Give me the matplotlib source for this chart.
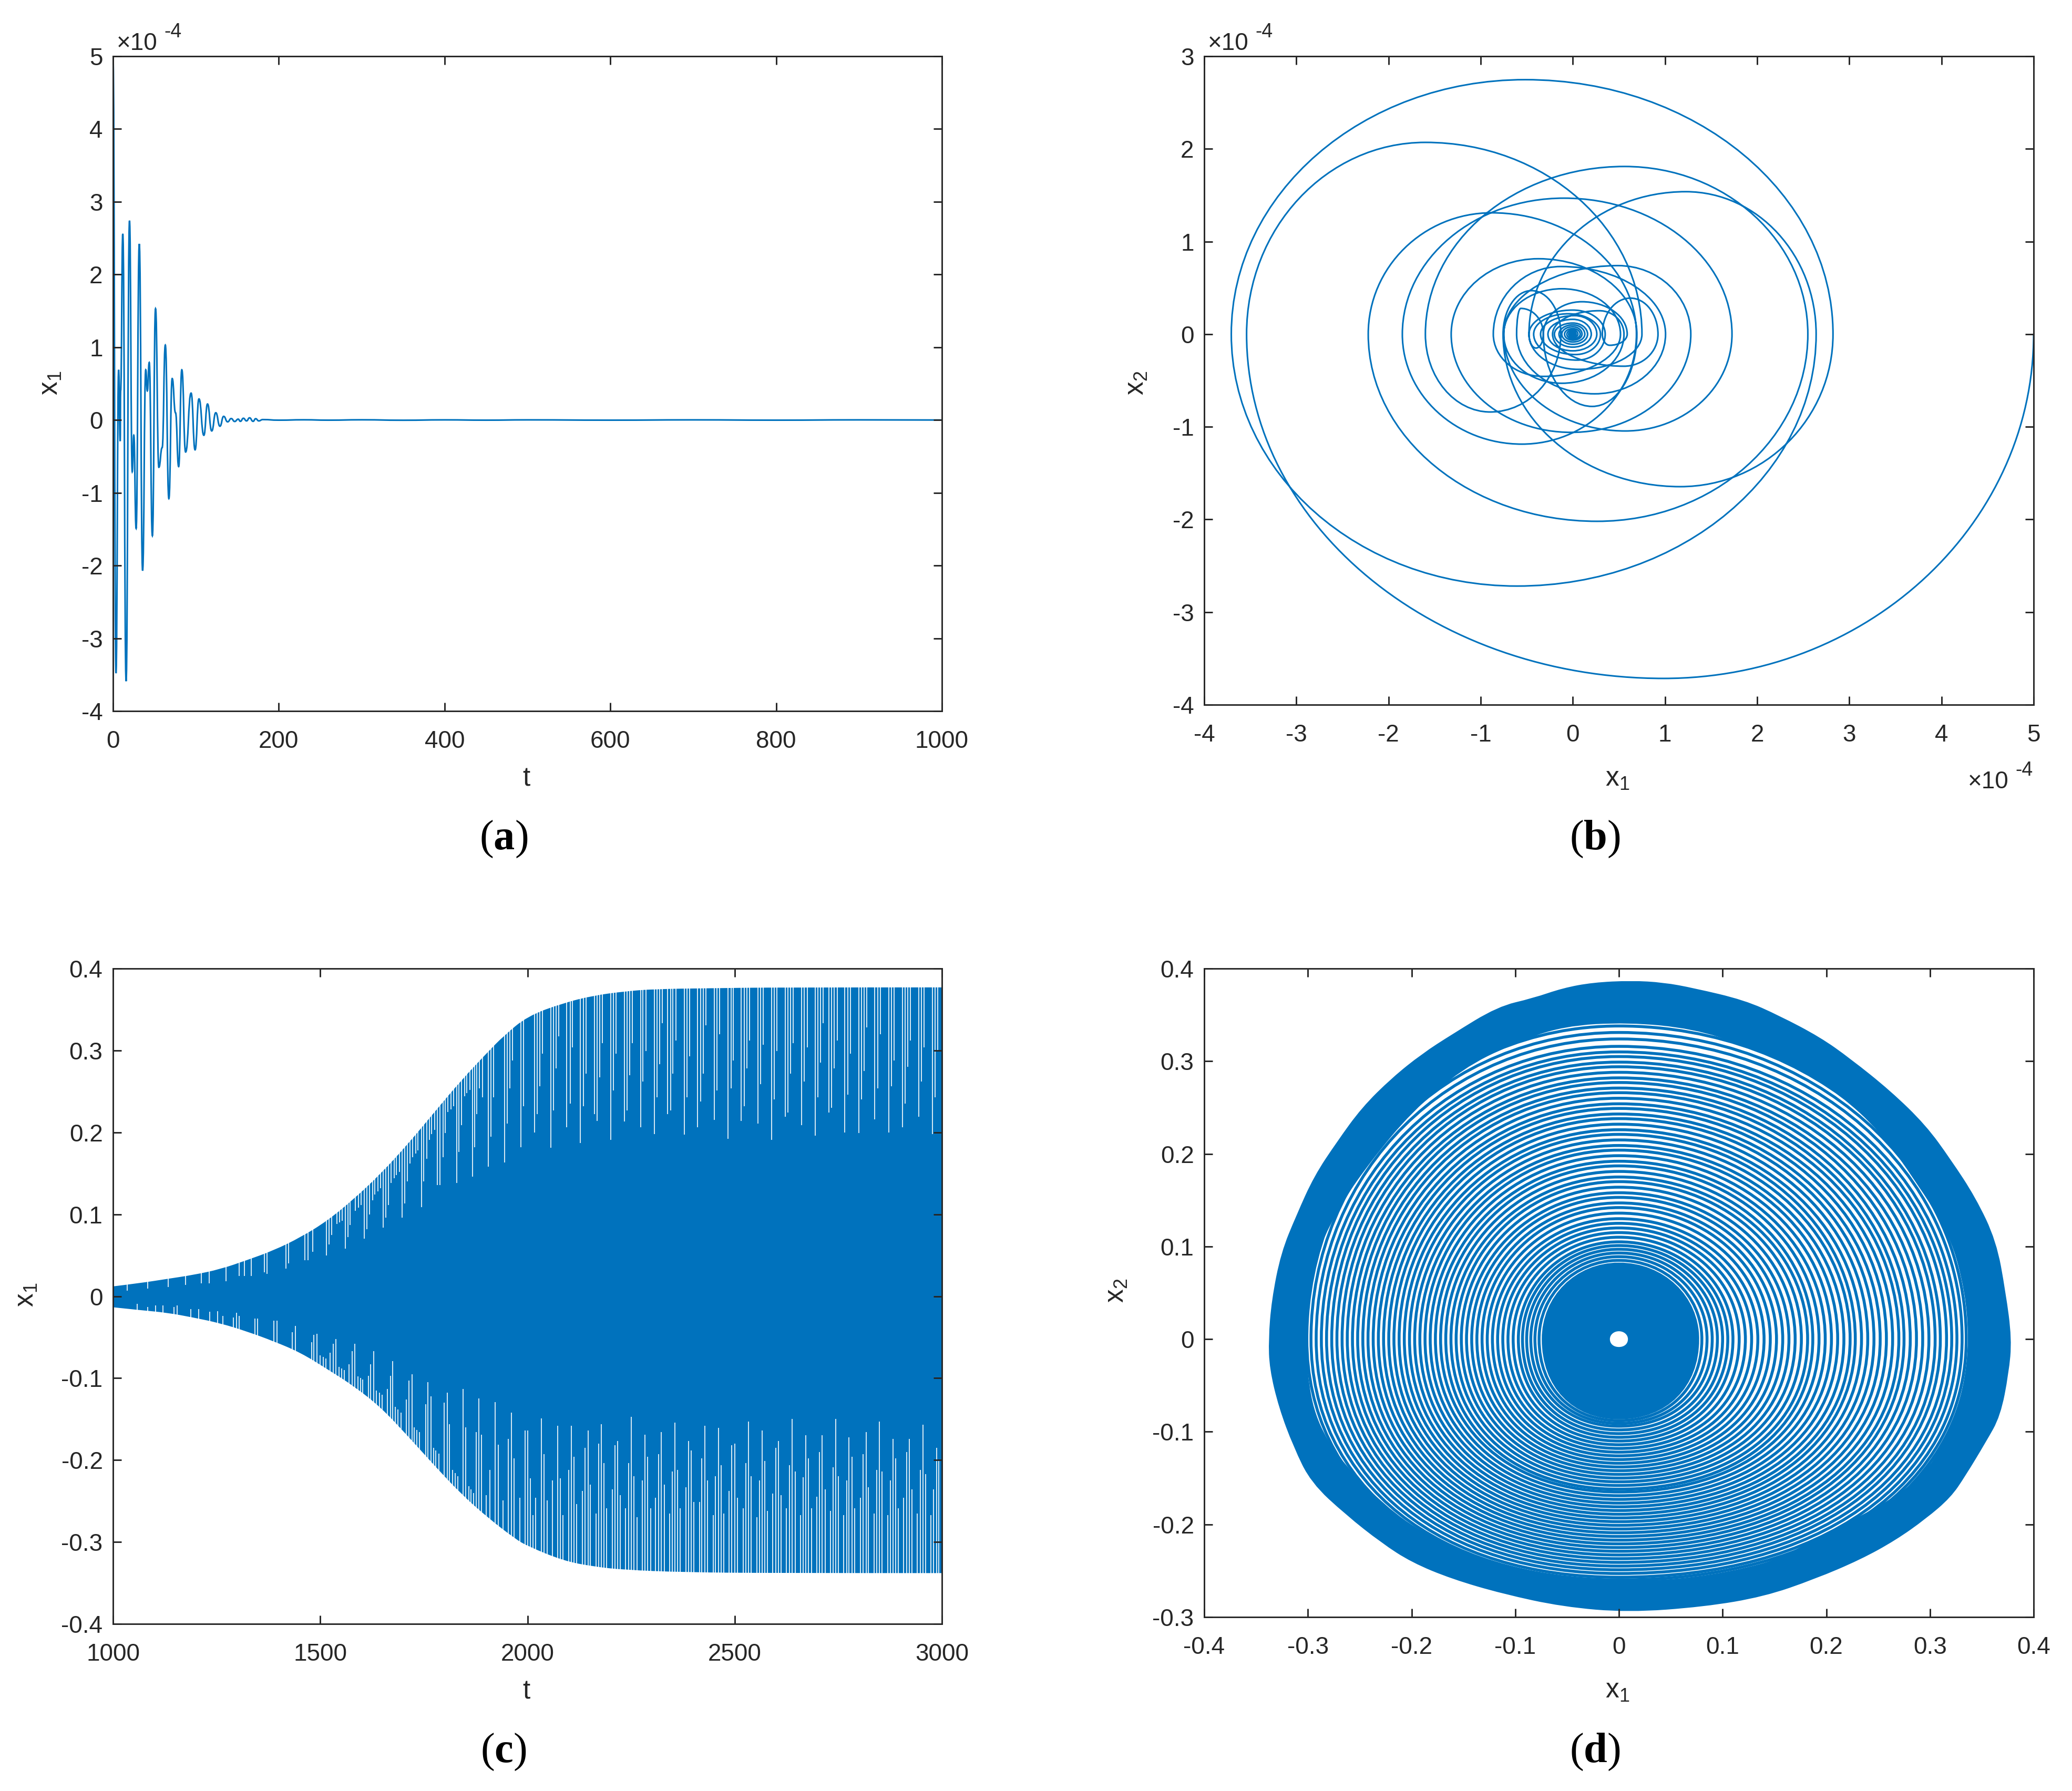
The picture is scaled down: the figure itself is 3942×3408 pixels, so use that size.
"""
plot.py
Four panel figure: decay and growth of x1, with phase portraits.
"""
import numpy as np
import matplotlib
matplotlib.use("Agg")
import matplotlib.pyplot as plt
from matplotlib.path import Path
from matplotlib.patches import PathPatch

plt.rcParams["font.family"] = ["Liberation Sans", "DejaVu Sans"]
plt.rcParams["axes.unicode_minus"] = False
plt.rcParams["mathtext.fontset"] = "custom"
plt.rcParams["mathtext.rm"] = "Liberation Serif"
plt.rcParams["mathtext.bf"] = "Liberation Serif:bold"
plt.rcParams["mathtext.sf"] = "Liberation Sans"

BLUE = "#0072BD"
DARK = "#262626"

# ---------- (a) extrema of x1 over t, in units of 1e-4 ----------
a_t = [0, 3.6, 6.8, 8.7, 9.2, 11.8, 15.8, 19.9, 23.2, 25.1, 27.9, 31.7, 35.7, 39.5, 41.4, 43.7,
       47.5, 51.3, 55.3, 59.3, 63.1, 67.4, 71.4, 75.4, 79.2, 83, 87.6, 94.2, 99, 103.7, 109.6,
       114, 119.1, 124, 129, 133.5, 138.3, 142.6, 146.8, 151, 153.7, 157.3, 161.1, 164.7, 169,
       172.1, 175.9, 180.6, 200, 230, 260, 300, 350, 400, 450, 500, 600, 700, 800, 900, 1000]
a_x = [5, -3.48, 0.69, -0.29, 0.4, 2.56, -3.59, 2.74, -0.71, -0.21, -1.49, 2.42, -2.07, 0.69, 0.40, 0.79,
       -1.59, 1.53, -0.65, -0.38, 1.03, -1.08, 0.57, 0.1, -0.64, 0.69, -0.44, 0.37, -0.41, 0.29, -0.21,
       0.22, -0.15, 0.10, -0.085, 0.05, -0.025, 0.02, -0.02, 0.012, -0.018, 0.024, -0.012, 0.03, -0.018,
       0.018, -0.012, 0.006, -0.002, 0.003, -0.002, 0.003, -0.003, 0.002, -0.002, 0.002, -0.002, 0.002,
       -0.002, 0.002, 0]

# ---------- (b) x1 turning points on x2=0 and the x2 extreme after each, units of 1e-4 ----------
b_turn = [5, -3.54, 0.75, -0.476, 2.64, -3.706, 2.823, -0.757, -0.13, -1.6, 2.55, -2.22, 0.69, -1.85,
          1.727, -0.75, 1.28, -1.32, 0.695, -0.32, 0.59, 0.32, 0.924, -0.22, 0.555, -0.75, 0.517,
          -0.863, 1.006, -0.61, -0.32, -0.476, 0.351, -0.425, 0.3, -0.35, 0.26, -0.27, 0.2, -0.2,
          0.16, -0.15, 0.13, -0.12, 0.1, -0.09, 0.08, -0.065, 0.055, -0.045, 0.035, -0.03, 0.02,
          -0.015, 0.01, -0.005]
b_ext_x = [0.985, -1.6, 0.06, 1.225, -0.607, -0.517, 1.165, -0.45, -0.896, 0.56, 0.264, -0.88, -0.553,
           -0.096, 0.568, 0.49, -0.018, -0.374, 0.21, 0.097, 0.40, 0.624, 0.555, 0.288, -0.12, -0.12,
           -0.323, -0.13, 0.237, -0.565, -0.4, 0.0, 0.05, -0.05, 0.03, 0.02, 0.0, 0.0, 0.0, 0.0,
           0.0, 0.0, 0.0, 0.0, 0.0, 0.0, 0.0, 0.0, 0.0, 0.0, 0.0, 0.0, 0.0, 0.0, 0.0]
b_ext_y = [-3.716, 2.07, -0.38, 1.538, -2.719, 2.747, -1.646, 0.47, -0.84, 1.81, -2.02, 1.31, -1.187,
           1.468, -1.045, 0.74, -1.06, 0.814, -0.78, 0.35, -0.12, 0.389, -0.346, 0.253, -0.53, 0.49,
           -0.456, 0.73, -0.644, 0.278, -0.15, 0.26, -0.28, 0.22, -0.22, 0.2, -0.18, 0.16, -0.14, 0.12,
           -0.11, 0.1, -0.085, 0.08, -0.065, 0.06, -0.05, 0.045, -0.035, 0.03, -0.025, 0.02, -0.015,
           0.01, -0.006]

# ---------- (c) envelope of x1 ----------
c_up_t = [1000, 1065, 1129, 1194, 1259, 1323, 1388, 1453, 1517, 1582, 1647, 1712, 1776, 1841, 1906,
          1941, 2000, 2087, 2159, 2232, 2305, 2450, 2596, 3000]
c_up = [0.012, 0.016, 0.021, 0.026, 0.033, 0.044, 0.056, 0.072, 0.092, 0.119, 0.150, 0.186, 0.225,
        0.264, 0.299, 0.317, 0.342, 0.358, 0.367, 0.372, 0.375, 0.376, 0.377, 0.377]
c_lo_t = [1000, 1065, 1129, 1194, 1259, 1323, 1388, 1453, 1517, 1582, 1647, 1712, 1776, 1841, 1906,
          1970, 2000, 2087, 2159, 2232, 2378, 2596, 3000]
c_lo = [-0.0135, -0.017, -0.020, -0.026, -0.033, -0.043, -0.055, -0.069, -0.089, -0.110, -0.136, -0.171,
        -0.207, -0.242, -0.271, -0.296, -0.305, -0.323, -0.330, -0.334, -0.337, -0.338, -0.338]

# gaps left open between strokes: t of each gap and the x1 value where it closes
c_gap_up_t = [1034, 1084, 1133, 1175, 1213, 1232, 1273, 1304, 1317, 1333, 1365, 1372, 1417, 1424, 1463,
              1470, 1482, 1515, 1521, 1527, 1560, 1567, 1572, 1606, 1613, 1619, 1626, 1652, 1658, 1665,
              1671, 1697, 1704, 1710, 1717, 1744, 1750, 1757, 1763, 1783, 1789, 1796, 1802, 1829, 1835,
              1841, 1868, 1872, 1878, 1884, 1892, 1906, 1912, 1918, 1945, 1951, 1957, 1964, 1984, 1991,
              2017, 2023, 2030, 2036, 2056, 2063, 2069, 2076, 2095, 2103, 2108, 2128, 2135, 2142, 2162,
              2168, 2175, 2181, 2201, 2207, 2214, 2234, 2240, 2247, 2253, 2273, 2279, 2286, 2306, 2312,
              2319, 2325, 2338, 2345, 2351, 2358, 2378, 2385, 2391, 2410, 2418, 2424, 2431, 2451, 2457,
              2464, 2484, 2491, 2497, 2516, 2523, 2529, 2536, 2556, 2563, 2569, 2589, 2595, 2602, 2622,
              2628, 2635, 2641, 2662, 2668, 2675, 2694, 2701, 2707, 2714, 2727, 2734, 2740, 2747, 2766,
              2773, 2779, 2799, 2806, 2812, 2819, 2838, 2845, 2852, 2872, 2878, 2885, 2905, 2911, 2918,
              2924, 2944, 2950, 2957, 2977, 2983, 2990,
              1540, 1546, 1553, 1585, 1592, 1599, 1632, 1639, 1645, 1678, 1684, 1691, 1723, 1730, 1736,
              1769, 1776, 1808, 1815, 1822, 1848, 1854, 1861]
c_gap_up = [.007, .009, .011, .014, .016, .016, .018, .025, .025, .025, .029, .027, .034, .040, .044,
            .044, .054, .050, .063, .075, .058, .072, .087, .070, .082, .100, .117, .084, .096, .111,
            .138, .096, .113, .140, .162, .109, .140, .168, .191, .136, .136, .170, .199, .138, .176,
            .209, .146, .182, .222, .254, .243, .158, .195, .243, .163, .211, .254, .288, .182, .232,
            .200, .222, .256, .296, .181, .227, .278, .317, .206, .235, .304, .187, .232, .272, .222,
            .214, .267, .309, .191, .251, .296, .213, .227, .270, .309, .206, .262, .299, .198, .243,
            .283, .333, .222, .227, .272, .312, .197, .243, .293, .206, .238, .272, .331, .215, .251,
            .320, .192, .254, .288, .214, .232, .278, .312, .211, .259, .307, .191, .240, .299, .219,
            .224, .272, .309, .209, .262, .304, .196, .243, .285, .333, .224, .230, .278, .312, .200,
            .246, .296, .199, .240, .275, .328, .216, .254, .320, .200, .256, .288, .206, .235, .280,
            .312, .219, .262, .304, .198, .243, .299,
            .088, .090, .092, .104, .108, .111, .124, .128, .132, .144, .148, .152, .170, .174, .178,
            .198, .203, .225, .228, .232, .244, .248, .252]
c_gap_lo_t = [1058, 1084, 1103, 1120, 1147, 1155, 1188, 1207, 1233, 1252, 1265, 1291, 1298, 1304, 1343,
              1349, 1388, 1396, 1433, 1440, 1479, 1485, 1492, 1524, 1532, 1538, 1569, 1577, 1583, 1616,
              1622, 1629, 1662, 1669, 1675, 1708, 1714, 1721, 1754, 1760, 1767, 1799, 1806, 1812, 1845,
              1851, 1876, 1883, 1889, 1901, 1909, 1922, 1929, 1941, 1954, 1961, 1968, 1981, 1994, 2000,
              2007, 2013, 2020, 2033, 2040, 2047, 2060, 2073, 2079, 2086, 2100, 2106, 2112, 2119, 2132,
              2139, 2146, 2152, 2165, 2172, 2178, 2185, 2191, 2205, 2211, 2218, 2224, 2237, 2244, 2250,
              2257, 2264, 2277, 2284, 2290, 2297, 2309, 2316, 2323, 2330, 2343, 2349, 2356, 2362, 2369,
              2382, 2389, 2395, 2402, 2415, 2421, 2428, 2434, 2448, 2454, 2461, 2467, 2474, 2487, 2493,
              2500, 2507, 2520, 2527, 2533, 2540, 2553, 2560, 2566, 2573, 2579, 2592, 2599, 2606, 2612,
              2625, 2632, 2639, 2646, 2659, 2665, 2672, 2678, 2685, 2698, 2705, 2711, 2718, 2731, 2737,
              2744, 2750, 2763, 2770, 2776, 2783, 2790, 2803, 2810, 2817, 2823, 2836, 2843, 2849, 2856,
              2869, 2876, 2882, 2889, 2895, 2908, 2915, 2921, 2928, 2941, 2948, 2954, 2961, 2974, 2980,
              2987, 2993,
              1500, 1507, 1513, 1545, 1552, 1558, 1591, 1597, 1603, 1636, 1643, 1649, 1681, 1688, 1695,
              1727, 1733, 1740, 1773, 1779, 1786, 1819, 1825, 1832, 1858, 1864, 1870]
c_gap_lo = [-.009, -.013, -.011, -.011, -.013, -.011, -.016, -.016, -.019, -.018, -.024, -.026, -.020, -.024,
            -.027, -.027, -.030, -.030, -.044, -.036, -.056, -.047, -.046, -.069, -.058, -.052, -.083, -.067,
            -.058, -.097, -.083, -.067, -.113, -.097, -.079, -.126, -.103, -.095, -.132, -.105, -.122, -.130,
            -.118, -.156, -.113, -.160, -.166, -.125, -.169, -.243, -.212, -.129, -.181, -.249, -.174, -.142,
            -.198, -.246, -.164, -.164, -.222, -.267, -.246, -.149, -.193, -.249, -.225, -.158, -.222, -.267,
            -.212, -.158, -.196, -.254, -.238, -.185, -.164, -.230, -.265, -.180, -.156, -.204, -.259, -.236,
            -.182, -.177, -.243, -.259, -.204, -.147, -.220, -.270, -.225, -.169, -.196, -.259, -.246, -.193,
            -.166, -.230, -.265, -.214, -.154, -.212, -.259, -.233, -.177, -.188, -.251, -.251, -.198, -.158,
            -.225, -.267, -.220, -.161, -.206, -.265, -.238, -.182, -.180, -.246, -.259, -.204, -.153, -.220,
            -.270, -.225, -.164, -.201, -.262, -.241, -.185, -.177, -.243, -.259, -.206, -.150, -.214, -.267,
            -.221, -.170, -.198, -.259, -.245, -.190, -.170, -.236, -.262, -.209, -.150, -.220, -.267, -.225,
            -.172, -.196, -.259, -.246, -.193, -.166, -.233, -.265, -.212, -.153, -.214, -.267, -.225, -.174,
            -.198, -.259, -.246, -.190, -.174, -.236, -.265, -.212, -.157, -.217, -.267, -.236, -.185, -.201,
            -.072, -.074, -.076, -.086, -.088, -.090, -.098, -.100, -.102, -.115, -.118, -.120, -.135, -.138,
            -.142, -.160, -.163, -.166, -.185, -.188, -.192, -.212, -.216, -.220, -.232, -.236, -.240]

# ---------- (d) outer edge and inner edge of the saturated band ----------
d_out_x = [.012, .043, .072, .121, .155, .194, .223, .262, .296, .320, .344, .364, .373, .379, .376, .368,
           .354, .334, .320, .296, .267, .233, .189, .140, .082, .009, -.054, -.112, -.161, -.200, -.229,
           -.263, -.297, -.314, -.328, -.337, -.338, -.335, -.326, -.311, -.294, -.272, -.248, -.219,
           -.190, -.161, -.117, -.083, -.054, -.025]
d_out_y = [.387, .385, .379, .366, .349, .326, .303, .268, .231, .194, .153, .106, .051, 0, -.037, -.083,
           -.111, -.148, -.171, -.194, -.217, -.238, -.259, -.278, -.289, -.295, -.289, -.275, -.259,
           -.241, -.220, -.190, -.155, -.116, -.074, -.032, 0, .042, .093, .134, .176, .213, .250, .282,
           .308, .329, .359, .368, .379, .385]
d_in_x = [.009, .072, .121, .169, .213, .252, .286, .320, .334, .338, .332, .320, .300, .267, .203, .140,
          .072, 0, -.064, -.122, -.166, -.214, -.267, -.292, -.301, -.302, -.292, -.267, -.238, -.200,
          -.151, -.102, -.054]
d_in_y = [.342, .335, .317, .296, .264, .224, .171, .111, .051, 0, -.056, -.097, -.139, -.171, -.208, -.245,
          -.259, -.261, -.255, -.241, -.222, -.192, -.134, -.088, -.037, .023, .093, .148, .194, .245,
          .292, .319, .338]

# where each visible turn of the spiral meets the four half axes
d_right = [.076, .080, .085, .090, .095, .100, .105, .110, .116, .122, .128, .134, .140, .146, .152, .158,
           .164, .170, .176, .182, .187, .193, .199, .205, .211, .217, .223, .228, .234, .240, .246, .252,
           .258, .264, .270, .275, .281, .287, .293, .299, .305, .310, .316, .321, .326, .331, .335, .338]
d_top = [.081, .085, .089, .093, .097, .101, .105, .110, .115, .120, .125, .130, .136, .142, .147, .153,
         .158, .164, .170, .175, .181, .187, .192, .198, .204, .209, .215, .221, .226, .232, .238, .243,
         .249, .254, .260, .266, .271, .277, .282, .288, .294, .299, .305, .310, .316, .324, .331, .338]
d_left = [.073, .077, .081, .085, .089, .093, .097, .102, .107, .112, .117, .122, .127, .132, .137, .142,
          .147, .152, .157, .162, .167, .172, .177, .182, .187, .192, .197, .202, .207, .212, .217, .222,
          .227, .232, .237, .242, .247, .252, .257, .262, .267, .272, .277, .282, .287, .292, .297, .301]
d_bottom = [.085, .088, .091, .094, .098, .102, .106, .110, .114, .118, .122, .126, .130, .134, .138, .142,
            .146, .150, .154, .158, .162, .165, .169, .173, .177, .181, .185, .189, .193, .197, .201, .205,
            .209, .213, .217, .221, .225, .229, .233, .237, .241, .245, .249, .253, .257, .260, .263, .266]
# dense core: right, top, left, bottom; and the empty spot at the origin
d_core = [.076, .081, .073, .085]
d_hole = [.0087, .0085, .0087, .0085]

# ---------- tick labels ----------
a_xticks = [0, 200, 400, 600, 800, 1000]
a_yticks = [-4, -3, -2, -1, 0, 1, 2, 3, 4, 5]
b_xticks = [-4, -3, -2, -1, 0, 1, 2, 3, 4, 5]
b_yticks = [-4, -3, -2, -1, 0, 1, 2, 3]
c_xticks = [1000, 1500, 2000, 2500, 3000]
c_yticks = [-0.4, -0.3, -0.2, -0.1, 0, 0.1, 0.2, 0.3, 0.4]
d_xticks = [-0.4, -0.3, -0.2, -0.1, 0, 0.1, 0.2, 0.3, 0.4]
d_yticks = [-0.3, -0.2, -0.1, 0, 0.1, 0.2, 0.3, 0.4]

W, H = 3942, 3408
TICK_FS = 33
LABEL_FS = 37
LW = 2.2


def fx(px):
    return px / W


def fy(py):
    return 1 - py / H


def make_axes(left, right, top, bottom, xticks, yticks, xlim, ylim):
    ax = fig.add_axes([fx(left), fy(bottom), (right - left) / W, (bottom - top) / H])
    ax.set_xlim(xlim)
    ax.set_ylim(ylim)
    ax.set_xticks(xticks)
    ax.set_xticklabels([f"{v:g}" for v in xticks])
    ax.set_yticks(yticks)
    ax.set_yticklabels([f"{v:g}" for v in yticks])
    ax.tick_params(direction="in", top=True, right=True, length=11.5, width=2.1,
                   color=DARK, labelcolor=DARK, labelsize=TICK_FS)
    ax.tick_params(axis="x", pad=26)
    ax.tick_params(axis="y", pad=14)
    for s in ax.spines.values():
        s.set_linewidth(2.1)
        s.set_color(DARK)
    return ax


def labels(ax, xlab, ylab, xpos, ypos):
    ax.set_xlabel(xlab, fontsize=LABEL_FS, color=DARK, va="center", ha="center")
    ax.xaxis.set_label_coords(fx(xpos[0]), fy(xpos[1]), transform=fig.transFigure)
    ax.set_ylabel(ylab, fontsize=LABEL_FS, color=DARK, va="center", ha="center")
    ax.yaxis.set_label_coords(fx(ypos[0]), fy(ypos[1]), transform=fig.transFigure)


def exponent(px, py):
    fig.text(fx(px), fy(py), "×10", fontsize=TICK_FS, color=DARK, va="baseline")
    fig.text(fx(px + 90), fy(py - 24), "-4", fontsize=27, color=DARK, va="baseline")


def caption(px, py, letter):
    fig.text(fx(px), fy(py), r"$\mathrm{(}\mathbf{%s}\mathrm{)}$" % letter, fontsize=58,
             color="black", ha="center", va="center")


def time_path(t, x):
    # smooth stroke through read extrema, flat at each one
    verts = [(t[0], x[0])]
    codes = [Path.MOVETO]
    for i in range(len(t) - 1):
        mid = (t[i] + t[i + 1]) / 2
        verts += [(mid, x[i]), (mid, x[i + 1]), (t[i + 1], x[i + 1])]
        codes += [Path.CURVE4] * 3
    return Path(verts, codes)


def phase_path(turn, ext_x, ext_y, k=0.5523):
    # vertical tangent at each turning point, horizontal at each x2 extreme
    verts = [(turn[0], 0)]
    codes = [Path.MOVETO]
    for i in range(len(ext_x)):
        xa, xe, ye, xb = turn[i], ext_x[i], ext_y[i], turn[i + 1]
        verts += [(xa, ye * k), (xe + (xa - xe) * k, ye), (xe, ye)]
        verts += [(xe + (xb - xe) * k, ye), (xb, ye * k), (xb, 0)]
        codes += [Path.CURVE4] * 6
    return Path(verts, codes)


def ring_verts(right, top, left, bottom, ku=0.56, kd=0.60):
    return [(right, 0),
            (right, top * ku), (right * ku, top), (0, top),
            (-left * ku, top), (-left, top * ku), (-left, 0),
            (-left, -bottom * kd), (-left * kd, -bottom), (0, -bottom),
            (right * kd, -bottom), (right, -bottom * kd), (right, 0)]


RING_CODES = [Path.MOVETO] + [Path.CURVE4] * 12


def smooth_open(pts):
    # read points act as quadratic control points, so the outline has no corners
    verts = [pts[0]]
    codes = [Path.MOVETO]
    for i in range(1, len(pts) - 1):
        end = pts[-1] if i == len(pts) - 2 else ((pts[i][0] + pts[i + 1][0]) / 2, (pts[i][1] + pts[i + 1][1]) / 2)
        verts += [pts[i], end]
        codes += [Path.CURVE3, Path.CURVE3]
    return verts, codes


def smooth_closed(pts):
    n = len(pts)
    mids = [((pts[i][0] + pts[(i + 1) % n][0]) / 2, (pts[i][1] + pts[(i + 1) % n][1]) / 2) for i in range(n)]
    verts = [mids[-1]]
    codes = [Path.MOVETO]
    for i in range(n):
        verts += [pts[i], mids[i]]
        codes += [Path.CURVE3, Path.CURVE3]
    return verts, codes


fig = plt.figure(figsize=(W / 100, H / 100), dpi=100, facecolor="white")

# ---------- (a) ----------
ax = make_axes(215, 1792, 107, 1353, a_xticks, a_yticks, (0, 1000), (-4, 5))
ax.add_patch(PathPatch(time_path(a_t, a_x), fill=False, edgecolor=BLUE, lw=LW))
labels(ax, "t", "x$_{\\mathsf{1}}$", (1001, 1482), (96, 729))
exponent(222, 95)
caption(958, 1597, "a")

# ---------- (b) ----------
ax = make_axes(2291, 3869, 107, 1341, b_xticks, b_yticks, (-4, 5), (-4, 3))
ax.add_patch(PathPatch(phase_path(b_turn, b_ext_x, b_ext_y), fill=False, edgecolor=BLUE, lw=LW))
labels(ax, "x$_{\\mathsf{1}}$", "x$_{\\mathsf{2}}$", (3077, 1482), (2162, 729))
exponent(2298, 95)
exponent(3744, 1500)
caption(3034, 1597, "b")

# ---------- (c) ----------
ax = make_axes(215, 1792, 1843, 3090, c_xticks, c_yticks, (1000, 3000), (-0.4, 0.4))
up_v, up_c = smooth_open(list(zip(c_up_t, c_up)))
lo_v, lo_c = smooth_open(list(zip(c_lo_t, c_lo))[::-1])
env = Path(up_v + lo_v + [up_v[0]], up_c + [Path.LINETO] + lo_c[1:] + [Path.CLOSEPOLY])
ax.add_patch(PathPatch(env, facecolor=BLUE, edgecolor="none", zorder=1))
ax.vlines(c_gap_up_t, c_gap_up, 0.4, color="white", lw=1.2, zorder=1.5)
ax.vlines(c_gap_lo_t, c_gap_lo, -0.4, color="white", lw=1.2, zorder=1.5)
labels(ax, "t", "x$_{\\mathsf{1}}$", (1001, 3219), (50, 2464))
caption(958, 3334, "c")

# ---------- (d) ----------
ax = make_axes(2291, 3869, 1843, 3077, d_xticks, d_yticks, (-0.4, 0.4), (-0.3, 0.4))
out_v, out_c = smooth_closed(list(zip(d_out_x, d_out_y)))
in_v, in_c = smooth_closed(list(zip(d_in_x, d_in_y))[::-1])
band = Path(out_v + in_v, out_c + in_c)
ax.add_patch(PathPatch(band, facecolor=BLUE, edgecolor="none", zorder=1))
for r, tp, l, b in zip(d_right, d_top, d_left, d_bottom):
    ax.add_patch(PathPatch(Path(ring_verts(r, tp, l, b), RING_CODES), fill=False,
                           edgecolor=BLUE, lw=4.0, zorder=1.2))
core = Path(ring_verts(*d_core) + ring_verts(*d_hole)[::-1], RING_CODES + RING_CODES)
ax.add_patch(PathPatch(core, facecolor=BLUE, edgecolor="none", zorder=1.4))
labels(ax, "x$_{\\mathsf{1}}$", "x$_{\\mathsf{2}}$", (3077, 3217), (2124, 2456))
caption(3034, 3334, "d")

fig.savefig("out.png", dpi=100, facecolor="white")
plt.close(fig)
